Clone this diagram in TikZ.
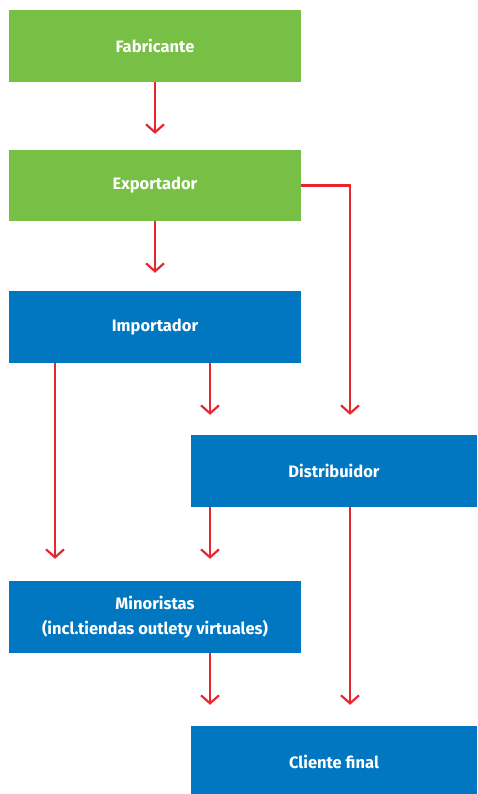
\documentclass[tikz,border=0pt]{standalone}
\usepackage{fontspec}
\setmainfont{Fira Sans}
\usetikzlibrary{arrows.meta}
\definecolor{boxgreen}{HTML}{77BF45}
\definecolor{boxblue}{HTML}{0077C0}
\definecolor{arrred}{HTML}{E8262E}
\begin{document}
\begin{tikzpicture}[x=1pt,y=-1pt,
  box/.style={rectangle, inner sep=0pt, text=white, align=center,
    font=\fontsize{16.5}{25}\selectfont\bfseries},
  gbox/.style={box, fill=boxgreen, minimum width=292pt, minimum height=72pt},
  bbox/.style={box, fill=boxblue, minimum width=292pt, minimum height=72pt},
  rbox/.style={box, fill=boxblue, minimum width=286pt, minimum height=72pt},
  arr/.style={draw=arrred, line width=2.2pt,
    -{Straight Barb[length=8pt,width=18pt,line width=2.2pt]}}]
\useasboundingbox (0,0) rectangle (478,794);
\node[gbox] (fab) at (155,46) {Fabricante};
\node[gbox, minimum height=71pt] (exp) at (155,185.5) {Exportador};
\node[bbox] (imp) at (155,327) {Importador};
\node[rbox] (dist) at (334,471) {Distribuidor};
\node[bbox] (min) at (155,617) {Minoristas\\(incl.tiendas outlety virtuales)};
\node[rbox] (cli) at (334,762) {Cliente final};
\coordinate (c1) at ([yshift=16pt]exp.north);
\coordinate (c2) at ([yshift=18pt]imp.north);
\draw[arr] (fab.south) -- (c1);
\draw[arr] (exp.south) -- (c2);
\draw[arr] (exp.east) -| ([xshift=350pt-334pt, yshift=20pt]dist.north);
\draw[arr] ([xshift=55pt-155pt]imp.south) -- ([xshift=55pt-155pt, yshift=22pt]min.north);
\draw[arr] ([xshift=210pt-155pt]imp.south) -- ([xshift=210pt-334pt, yshift=20pt]dist.north);
\draw[arr] ([xshift=210pt-334pt]dist.south) -- ([xshift=210pt-155pt, yshift=22pt]min.north);
\draw[arr] ([xshift=210pt-155pt]min.south) -- ([xshift=210pt-334pt, yshift=21pt]cli.north);
\draw[arr] ([xshift=350pt-334pt]dist.south) -- ([xshift=350pt-334pt, yshift=21pt]cli.north);
\end{tikzpicture}
\end{document}
